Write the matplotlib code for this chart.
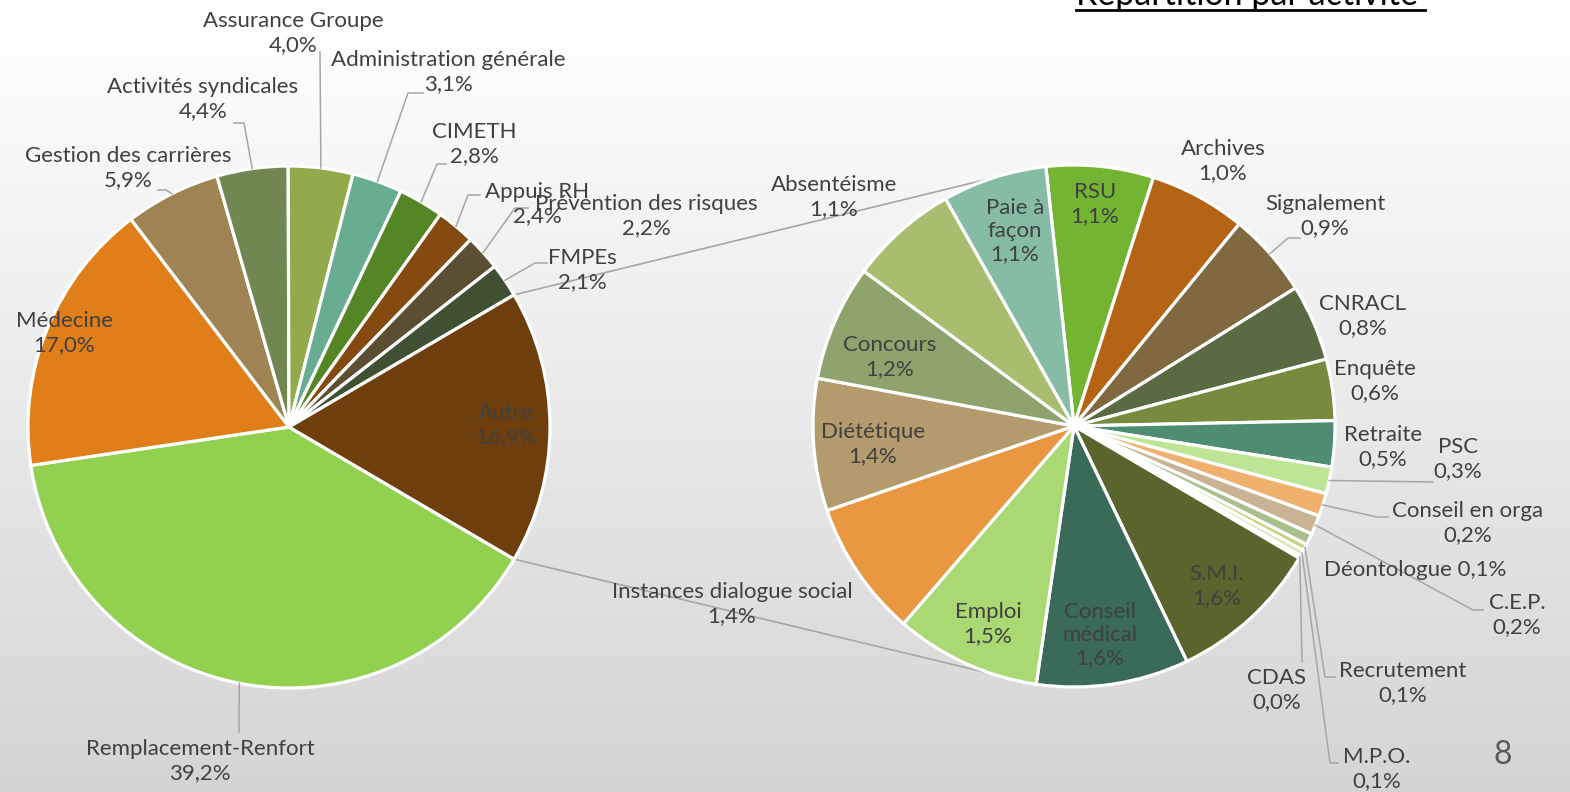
import numpy as np
import matplotlib
matplotlib.use("Agg")
import matplotlib.pyplot as plt

W, H = 1570, 792

# ---- data ----
main_labels = ['Remplacement-Renfort', 'Médecine', 'Gestion des carrières',
               'Activités syndicales', 'Assurance Groupe', 'Administration générale',
               'CIMETH', 'Appuis RH', 'Prévention des risques', 'FMPEs', 'Autre']
main_values = [39.2, 17.0, 5.9, 4.4, 4.0, 3.1, 2.8, 2.4, 2.2, 2.1, 16.9]
main_colors = ['#92d050', '#e07f1a', '#a08352', '#718752', '#92aa4b', '#68ac92',
               '#548626', '#854a0f', '#5c4e32', '#405032', '#6e3e0d']

sub_labels = ['RSU', 'Archives', 'Signalement', 'CNRACL', 'Enquête', 'Retraite',
              'PSC', 'Conseil en orga', 'C.E.P.', 'Déontologue', 'Recrutement',
              'M.P.O.', 'CDAS', 'S.M.I.', 'Conseil médical', 'Emploi',
              'Instances dialogue social', 'Diététique', 'Concours',
              'Absentéisme', 'Paie à façon']
sub_values = [1.12, 1.01, 0.88, 0.80, 0.64, 0.48, 0.28, 0.24, 0.20, 0.12, 0.07,
              0.06, 0.03, 1.59, 1.59, 1.52, 1.42, 1.38, 1.21, 1.13, 1.09]
sub_colors = ['#73b432', '#b46414', '#806941', '#5a6b44', '#778a3e', '#4e8c73',
              '#bee496', '#f0b06e', '#c8b494', '#a8bf8c', '#c4d47c', '#d8e4b0',
              '#7fc4c0', '#5a642d', '#3a6a58', '#aad873', '#e99740', '#b49b6e',
              '#8ea46c', '#a8be6e', '#86bca6']

# ---- layout (pixel coords, y from top) ----
c1, c2, R = (289, 427), (1074, 426), 261
txt = '#404040'
line_c = '#a6a6a6'

main_pos = {
    'Remplacement-Renfort': (200, 761), 'Médecine': (64, 333),
    'Gestion des carrières': (128, 168), 'Activités syndicales': (203, 99),
    'Assurance Groupe': (293, 33), 'Administration générale': (448, 72),
    'CIMETH': (474, 144), 'Appuis RH': (537, 204),
    'Prévention des risques': (646, 216), 'FMPEs': (582, 270), 'Autre': (506, 425),
}
main_lead = {
    'Remplacement-Renfort': [(239, 732)],
    'Gestion des carrières': [(166, 190), (158, 190)],
    'Activités syndicales': [(244, 123), (234, 123)],
    'Assurance Groupe': [(320, 52)],
    'Administration générale': [(408, 93), (423, 93)],
    'CIMETH': [(437, 164), (446, 164)],
    'Appuis RH': [(468, 195), (480, 195)],
    'Prévention des risques': [(515, 208), (528, 208)],
    'FMPEs': [(535, 263), (547, 263)],
}
sub_pos = {
    'RSU': (1095, 204), 'Archives': (1223, 161), 'Signalement': (1325, 216),
    'CNRACL': (1363, 316), 'Enquête': (1375, 381), 'Retraite': (1383, 447),
    'PSC': (1458, 459), 'Conseil en orga': (1468, 523), 'C.E.P.': (1517, 615),
    'Déontologue': (1415, 570), 'Recrutement': (1403, 683), 'M.P.O.': (1377, 769),
    'CDAS': (1277, 690), 'S.M.I.': (1217, 586), 'Conseil médical': (1100, 635),
    'Emploi': (988, 624), 'Instances dialogue social': (732, 604),
    'Diététique': (873, 444), 'Concours': (890, 357), 'Absentéisme': (834, 197),
    'Paie à façon': (1015, 231),
}
sub_lead = {
    'Signalement': [(1288, 238), (1300, 238)],
    'PSC': [(1433, 482)],
    'Conseil en orga': [(1377, 517), (1388, 517)],
    'C.E.P.': [(1473, 610), (1483, 610)],
    'Recrutement': [(1325, 677), (1335, 677)],
    'M.P.O.': [(1330, 763), (1338, 763)],
    'CDAS': [(1302, 662)],
}
label_text = {'Paie à façon': 'Paie à\nfaçon', 'Conseil médical': 'Conseil\nmédical'}
one_line = ['Déontologue']

plt.rcParams['font.family'] = ['Lato', 'DejaVu Sans']

fig = plt.figure(figsize=(W / 100, H / 100), dpi=100)

# background gradient
bg = fig.add_axes([0, 0, 1, 1])
grad = np.linspace(1.0, 0.83, 256).reshape(-1, 1)
bg.imshow(grad, cmap='gray', vmin=0, vmax=1, aspect='auto', extent=(0, 1, 0, 1))
bg.axis('off')

ax = fig.add_axes([0, 0, 1, 1])
ax.patch.set_alpha(0)


def Y(y):
    return H - y


def pct(v):
    return f"{v:.1f}".replace('.', ',') + '%'


wp = dict(edgecolor='white', linewidth=2.3)
autre_frac = main_values[-1] / sum(main_values)
w1, _ = ax.pie(main_values, colors=main_colors, startangle=-autre_frac * 180,
               counterclock=False, radius=R, center=(c1[0], Y(c1[1])),
               wedgeprops=wp, frame=True)
w2, _ = ax.pie(sub_values, colors=sub_colors, startangle=96.2,
               counterclock=False, radius=R, center=(c2[0], Y(c2[1])),
               wedgeprops=wp, frame=True)
for w in list(w1) + list(w2):
    w.set_zorder(3)

# series lines between the two pies
a = np.deg2rad(autre_frac * 180)
b = np.deg2rad(108)
for s in (1, -1):
    p1 = (c1[0] + R * np.cos(a), Y(c1[1]) + s * R * np.sin(a))
    p2 = (c2[0] + R * np.cos(b), Y(c2[1]) + s * R * np.sin(b))
    ax.plot([p1[0], p2[0]], [p1[1], p2[1]], color=line_c, lw=1.2, zorder=2)


def draw_labels(wedges, labels, values, center, pos, lead):
    for w, name, v in zip(wedges, labels, values):
        x, y = pos[name]
        s = label_text.get(name, name)
        s = s + (' ' if name in one_line else '\n') + pct(v)
        ax.text(x, Y(y), s, ha='center', va='center', fontsize=16, color=txt,
                linespacing=1.2, zorder=5)
        if name in lead:
            th = np.deg2rad((w.theta1 + w.theta2) / 2)
            xs = [center[0] + R * np.cos(th)]
            ys = [Y(center[1]) + R * np.sin(th)]
            for px, py in lead[name]:
                xs.append(px)
                ys.append(Y(py))
            ax.plot(xs, ys, color=line_c, lw=1.1, zorder=4)


draw_labels(w1, main_labels, main_values, c1, main_pos, main_lead)
draw_labels(w2, sub_labels, sub_values, c2, sub_pos, sub_lead)

# title (cut at top as in the slide) and page number
ax.text(1076, Y(5), 'Répartition par activité', ha='left', va='baseline',
        fontsize=24.5, color='black', zorder=6)
ax.plot([1076, 1425], [Y(10), Y(10)], color='black', lw=2, zorder=6)
ax.text(1503, Y(755), '8', ha='center', va='center', fontsize=23, color='#595959')

ax.set_xlim(0, W)
ax.set_ylim(0, H)
ax.set_aspect('equal')
ax.axis('off')

fig.savefig('out.png', dpi=100)
